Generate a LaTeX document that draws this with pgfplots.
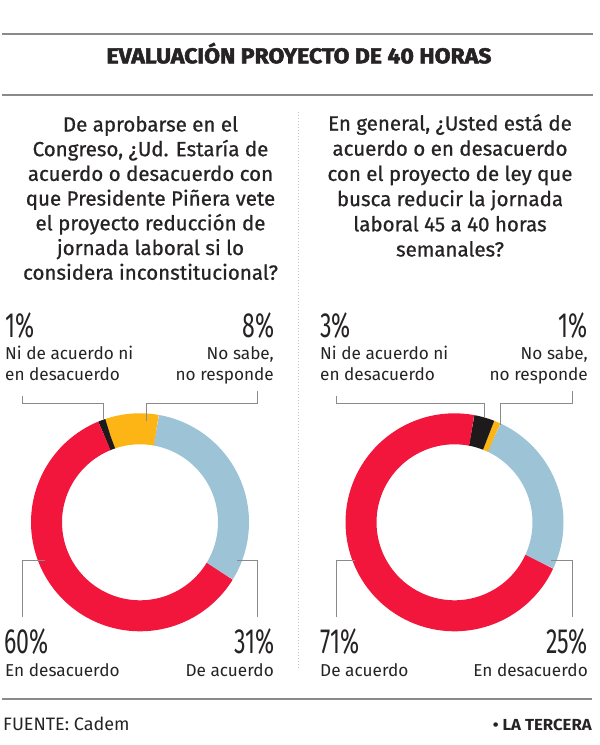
\documentclass[border=0pt]{standalone}
\usepackage{pgfplots}
\pgfplotsset{compat=1.18}
\usepackage{pgfplotstable}
\usepackage{fontspec}
\setmainfont{Fira Sans}
\newfontfamily\pctfont{Fira Sans}[FakeStretch=0.66]
\newfontfamily\qfont{Fira Sans}[FakeBold=0.8]
\newfontfamily\ttlfont{Fira Sans}[FakeStretch=0.9, BoldFeatures={FakeBold=2.2}]
\definecolor{cred}{HTML}{F2163D}
\definecolor{cblue}{HTML}{9DC3D6}
\definecolor{cyel}{HTML}{FDB515}
\definecolor{cblk}{HTML}{1E1A1B}
\definecolor{txt}{HTML}{262324}
\definecolor{rulec}{HTML}{8A8A8A}

% Chart A: question on veto (counter-clockwise order starting with "De acuerdo")
\pgfplotstableread{
segment value
acuerdo 31
nosabe 8
ni 1
desacuerdo 60
}\dataA
% Chart B: general agreement with the 40-hour bill
\pgfplotstableread{
segment value
desacuerdo 25
nosabe 1
ni 3
acuerdo 71
}\dataB

\newcommand\getval[3]{\pgfplotstablegetelem{#2}{value}\of#1\edef#3{\pgfplotsretval}}
\pgfplotsset{donut/.style={hide axis, x=1pt, y=1pt, xmin=-115, xmax=115,
  ymin=-115, ymax=115, clip=false, anchor=center}}
\newcommand\seg[3]{\addplot[draw=#1, line width=31pt, domain=#2:#3, samples=90, no marks] ({93.5*cos(x)},{93.5*sin(x)});}
\newcommand\Lt[3]{\node[anchor=base west,inner sep=0] at (#1pt,-#2pt) {#3};}
\newcommand\Rt[3]{\node[anchor=base east,inner sep=0] at (#1pt,-#2pt) {#3};}
\newcommand\pct[1]{{\pctfont\fontsize{35}{35}\selectfont #1\%}}

\begin{document}
\begin{tikzpicture}[every node/.style={text=txt, font=\fontsize{17.2}{21}\selectfont}]
\getval\dataA{0}\vAa \getval\dataA{1}\vAb \getval\dataA{2}\vAc \getval\dataA{3}\vAd
\getval\dataB{0}\vBa \getval\dataB{1}\vBb \getval\dataB{2}\vBc \getval\dataB{3}\vBd
\pgfmathsetmacro\Ab{80}
\pgfmathsetmacro\Aa{\Ab-3.6*\vAa}
\pgfmathsetmacro\Ac{\Ab+3.6*\vAb}
\pgfmathsetmacro\Ad{\Ac+3.6*\vAc}
\pgfmathsetmacro\Ae{\Ad+3.6*\vAd}
\pgfmathsetmacro\Bb{65}
\pgfmathsetmacro\Ba{\Bb-3.6*\vBa}
\pgfmathsetmacro\Bc{\Bb+3.6*\vBb}
\pgfmathsetmacro\Bd{\Bc+3.6*\vBc}
\pgfmathsetmacro\Be{\Bd+3.6*\vBd}
\useasboundingbox (0,0) rectangle (600pt,-745pt);
% rules
\draw[rulec, line width=1.2pt] (2pt,-34pt) -- (593pt,-34pt);
\draw[rulec, line width=1.2pt] (2pt,-95pt) -- (593pt,-95pt);
\draw[rulec, line width=1.2pt] (2pt,-699pt) -- (592pt,-699pt);
\draw[gray!45, line width=1pt, dash pattern=on 1pt off 2pt] (298pt,-112pt) -- (298pt,-670pt);
% title
\node[anchor=base,inner sep=0] at (299pt,-63.3pt) {\resizebox{385pt}{\height}{\ttlfont\bfseries\fontsize{21.5}{22}\selectfont EVALUACIÓN PROYECTO DE 40 HORAS}};
% questions
\foreach \t [count=\i from 0] in {De aprobarse en el, {Congreso, ¿Ud. Estaría de}, acuerdo o desacuerdo con, que Presidente Piñera vete, el proyecto reducción de, jornada laboral si lo, considera inconstitucional?}
  {\node[anchor=base,inner sep=0,font=\qfont\fontsize{20.5}{24}\selectfont] at (150.5pt,{-131.5pt-24.7pt*\i}) {\t};}
\foreach \t [count=\i from 0] in {{En general, ¿Usted está de}, acuerdo o en desacuerdo, con el proyecto de ley que, busca reducir la jornada, laboral 45 a 40 horas, semanales?}
  {\node[anchor=base,inner sep=0,font=\qfont\fontsize{20.5}{24}\selectfont] at (450pt,{-130.5pt-25.2pt*\i}) {\t};}
% donuts
\begin{axis}[donut, at={(140pt,-522.3pt)}]
\seg{cblue}{\Aa}{\Ab}
\seg{cyel}{\Ab}{\Ac}
\seg{cblk}{\Ac}{\Ad}
\seg{cred}{\Ad}{\Ae}
\end{axis}
\begin{axis}[donut, at={(454.5pt,-522.3pt)}]
\seg{cblue}{\Ba}{\Bb}
\seg{cyel}{\Bb}{\Bc}
\seg{cblk}{\Bc}{\Bd}
\seg{cred}{\Bd}{\Be}
\end{axis}
% leader lines
\begin{scope}[rulec, line width=1pt]
\draw (22pt,-396pt) -- (22pt,-403pt) -- (103pt,-403pt) -- (103pt,-419pt);
\draw (257pt,-391pt) -- (257pt,-403pt) -- (146pt,-403pt) -- (146pt,-421pt);
\draw (45pt,-560pt) -- (22pt,-560pt) -- (22pt,-617pt);
\draw (237pt,-560pt) -- (257pt,-560pt) -- (257pt,-617pt);
\draw (336pt,-396pt) -- (336pt,-403pt) -- (484pt,-403pt) -- (484pt,-418pt);
\draw (572pt,-391pt) -- (572pt,-403pt) -- (500pt,-403pt) -- (500pt,-425pt);
\draw (355pt,-560pt) -- (336pt,-560pt) -- (336pt,-617pt);
\draw (551pt,-560pt) -- (572pt,-560pt) -- (572pt,-617pt);
\end{scope}
% labels chart A
\Lt{5}{337}{\pct{\vAc}}
\Lt{5}{359.5}{Ni de acuerdo ni}
\Lt{5}{380.5}{en desacuerdo}
\Rt{275}{337}{\pct{\vAb}}
\Rt{274}{359.5}{No sabe,}
\Rt{274}{380.5}{no responde}
\Lt{4}{653.3}{\pct{\vAd}}
\Lt{5}{676}{En desacuerdo}
\Rt{275}{653.3}{\pct{\vAa}}
\Rt{274}{676}{De acuerdo}
% labels chart B
\Lt{320}{337}{\pct{\vBc}}
\Lt{320}{359.5}{Ni de acuerdo ni}
\Lt{320}{380.5}{en desacuerdo}
\Rt{588}{337}{\pct{\vBb}}
\Rt{588}{359.5}{No sabe,}
\Rt{588}{380.5}{no responde}
\Lt{320}{653.3}{\pct{\vBd}}
\Lt{320}{676}{De acuerdo}
\Rt{588}{653.3}{\pct{\vBa}}
\Rt{588}{676}{En desacuerdo}
% footer
\Lt{3}{730}{\fontsize{18}{18}\selectfont FUENTE: Cadem}
\Rt{592}{730}{\resizebox{99pt}{\height}{\bfseries\fontsize{16}{16}\selectfont • LA TERCERA}}
\end{tikzpicture}
\end{document}
